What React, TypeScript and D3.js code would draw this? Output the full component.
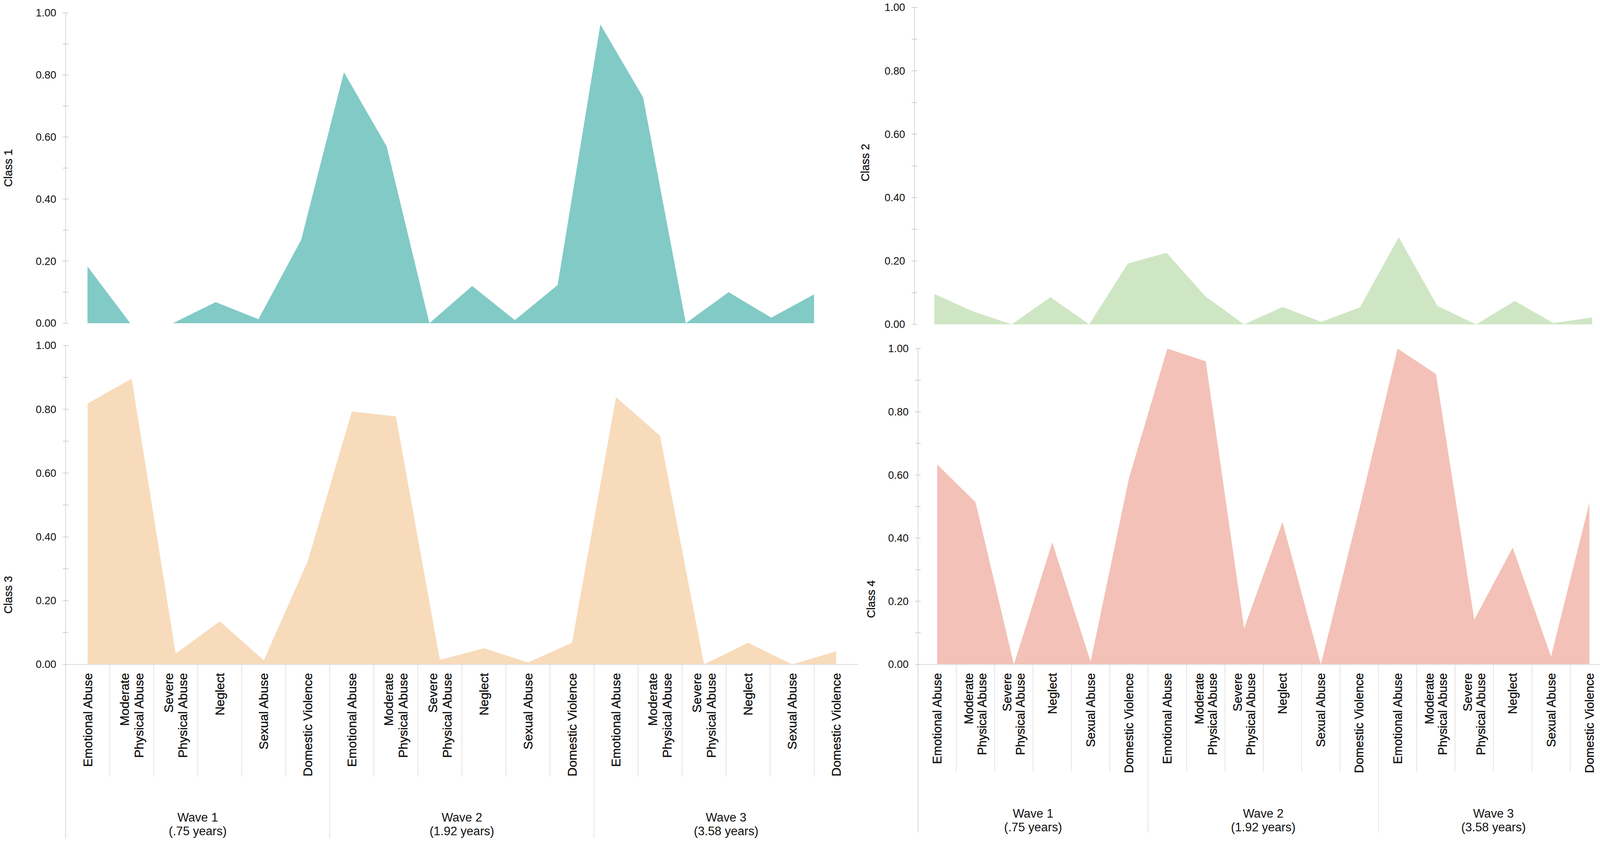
import React from "react";
import * as d3 from "d3";

// categories repeated in each wave
const categories = [
  ["Emotional Abuse"],
  ["Moderate", "Physical Abuse"],
  ["Severe", "Physical Abuse"],
  ["Neglect"],
  ["Sexual Abuse"],
  ["Domestic Violence"],
];

const waves = [
  ["Wave 1", "(.75 years)"],
  ["Wave 2", "(1.92 years)"],
  ["Wave 3", "(3.58 years)"],
];

const yTicks = [0, 0.2, 0.4, 0.6, 0.8, 1.0];

// probabilities, 6 categories x 3 waves
const class1 = [0.183, 0, 0, 0.068, 0.013, 0.269, 0.809, 0.57, 0, 0.12, 0.01, 0.123, 0.963, 0.728, 0, 0.1, 0.018, 0.093];
const class2 = [0.096, 0.041, 0, 0.086, 0, 0.192, 0.226, 0.089, 0, 0.055, 0.008, 0.054, 0.275, 0.058, 0, 0.074, 0.004, 0.022];
const class3 = [0.818, 0.896, 0.034, 0.135, 0.013, 0.324, 0.793, 0.778, 0.014, 0.051, 0.006, 0.068, 0.838, 0.717, 0, 0.068, 0, 0.041];
const class4 = [0.633, 0.514, 0, 0.386, 0.009, 0.59, 1.0, 0.96, 0.114, 0.451, 0, 0.49, 1.0, 0.92, 0.142, 0.37, 0.025, 0.512];

const keys = waves.flatMap((_, w) => categories.map((_, c) => `${w}-${c}`));

const FONT = "'Liberation Sans', Arial, Helvetica, sans-serif";
const W = 4131;
const H = 2162;

interface PanelProps {
  title: string;
  values: number[];
  color: string;
  axisX: number;
  xRange: [number, number];
  xPadding: number;
  yRange: [number, number];
  titleX: number;
  titleY: number;
  labels?: { size: number; lineH: number; sepEnd: number; waveEnd: number; waveY: number };
}

const Panel: React.FC<PanelProps> = ({ title, values, color, axisX, xRange, xPadding, yRange, titleX, titleY, labels }) => {
  const x = d3.scalePoint<string>().domain(keys).range(xRange).padding(xPadding);
  const y = d3.scaleLinear().domain([0, 1]).range(yRange);
  const step = x.step();
  const y0 = y(0);

  const area = d3.area<number>()
    .x((_, i) => x(keys[i]) as number)
    .y0(y0)
    .y1(d => y(d));

  const minor = d3.range(0, 11).map(i => i / 10);
  const xEnd = xRange[1];

  return (
    <g>
      <path d={area(values) ?? ""} fill={color} />

      {labels && (
        <g>
          <line x1={axisX} x2={xEnd} y1={y0} y2={y0} stroke="#d5dce4" strokeWidth={2} />
          {keys.map((k, i) => {
            if (i === 0) return null;
            const bx = (x(k) as number) - step / 2;
            const isWave = i % categories.length === 0;
            return (
              <line key={k} x1={bx} x2={bx} y1={y0} y2={isWave ? labels.waveEnd : labels.sepEnd}
                stroke="#e3e3e6" strokeWidth={2} />
            );
          })}
          {keys.map((k, i) => {
            const lines = categories[i % categories.length];
            const n = lines.length;
            return (
              <text key={k} transform={`translate(${x(k)},${y0 + 22}) rotate(-90)`}
                textAnchor="end" fontFamily={FONT} fontSize={labels.size} fill="#111"
                stroke="#111" strokeWidth={0.5}>
                {lines.map((ln, j) => (
                  <tspan key={j} x={0} y={(j - (n - 1) / 2) * labels.lineH + labels.size * 0.35}>{ln}</tspan>
                ))}
              </text>
            );
          })}
          {waves.map((wv, w) => {
            const cx = (x(keys[w * 6]) as number) - step / 2 + step * 3;
            return (
              <text key={w} x={cx} y={labels.waveY} textAnchor="middle" fontFamily={FONT} fontSize={31} fill="#111">
                <tspan x={cx}>{wv[0]}</tspan>
                <tspan x={cx} dy={35}>{wv[1]}</tspan>
              </text>
            );
          })}
        </g>
      )}

      {/* y axis */}
      <line x1={axisX} x2={axisX} y1={y(1)} y2={labels ? labels.waveEnd : y0} stroke="#d9d9de" strokeWidth={2} />
      {minor.map(t => (
        <line key={t} x1={axisX - 7} x2={axisX + 7} y1={y(t)} y2={y(t)} stroke="#cfcfd4" strokeWidth={2} />
      ))}
      {yTicks.map(t => (
        <text key={t} x={axisX - 24} y={y(t)} dy="0.35em" textAnchor="end" fontFamily={FONT} fontSize={27} fill="#111">
          {d3.format(".2f")(t)}
        </text>
      ))}
      <text transform={`translate(${titleX},${titleY}) rotate(-90)`} textAnchor="middle" dy="0.35em"
        fontFamily={FONT} fontSize={29} fill="#111" stroke="#111" strokeWidth={0.4}>
        {title}
      </text>
    </g>
  );
};

const App: React.FC = () => {
  return (
    <svg width={W} height={H} style={{ position: "absolute", left: 0, top: 0, background: "#fff" }}>
      <Panel title="Class 1" values={class1} color="#82cac6" axisX={168}
        xRange={[224, 2084]} xPadding={0} yRange={[827, 33]} titleX={21} titleY={430} />
      <Panel title="Class 2" values={class2} color="#cfe6c4" axisX={2341}
        xRange={[2392, 4076]} xPadding={0} yRange={[830, 19]} titleX={2215} titleY={416} />
      <Panel title="Class 3" values={class3} color="#f8dbbb" axisX={168}
        xRange={[168, 2197]} xPadding={0.5} yRange={[1700, 884]} titleX={21} titleY={1522}
        labels={{ size: 32, lineH: 37, sepEnd: 1987, waveEnd: 2145, waveY: 2102 }} />
      <Panel title="Class 4" values={class4} color="#f3c1b7" axisX={2350}
        xRange={[2350, 4118]} xPadding={0.5} yRange={[1700, 892]} titleX={2230} titleY={1533}
        labels={{ size: 31, lineH: 34, sepEnd: 1973, waveEnd: 2130, waveY: 2092 }} />
    </svg>
  );
};

export default App;
